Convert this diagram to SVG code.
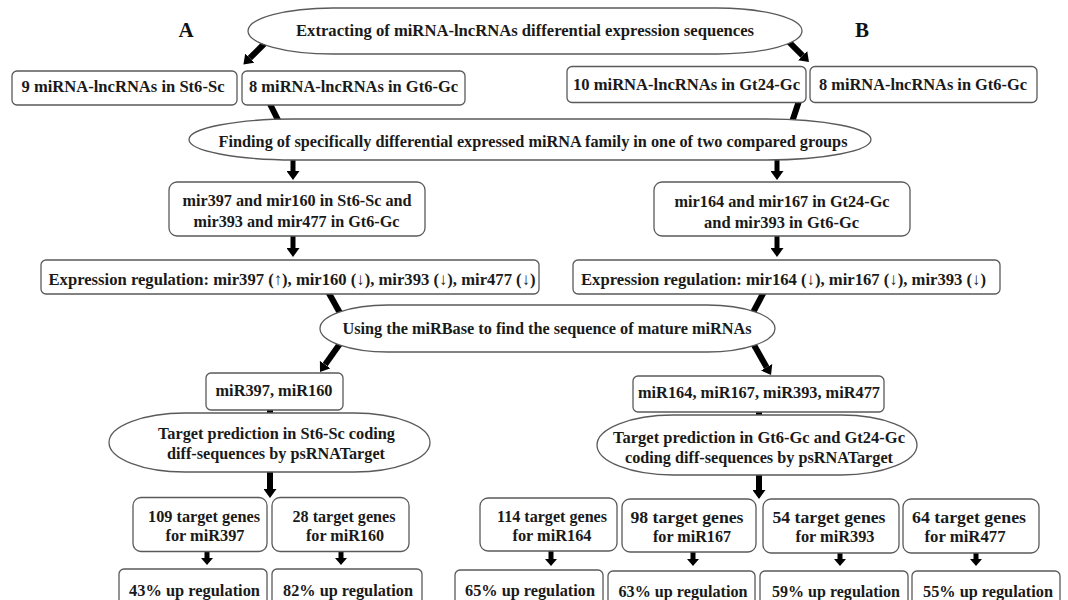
<svg xmlns="http://www.w3.org/2000/svg" width="1068" height="600" viewBox="0 0 1068 600">
<style>
.bx{fill:#fff;stroke:#5a5a5a;stroke-width:1.3}
.t{font-family:"Liberation Serif","Times New Roman",serif;font-weight:bold;font-size:17px;fill:#1a1a1a;text-anchor:middle}
.lbl{font-family:"Liberation Serif","Times New Roman",serif;font-weight:bold;font-size:21px;fill:#111;text-anchor:middle}
.c{stroke:#000;stroke-width:6;fill:none}
.cs{stroke:#000;stroke-width:5;fill:none}
</style>
<defs>
<marker id="ah" viewBox="0 0 10 10" refX="0" refY="5" markerUnits="userSpaceOnUse" markerWidth="9" markerHeight="13" preserveAspectRatio="none" orient="auto"><path d="M0,0 L10,5 L0,10 z" fill="#000"/></marker>
<marker id="ahs" viewBox="0 0 10 10" refX="0" refY="5" markerUnits="userSpaceOnUse" markerWidth="7" markerHeight="12" preserveAspectRatio="none" orient="auto"><path d="M0,0 L10,5 L0,10 z" fill="#000"/></marker>
</defs>
<rect width="1068" height="600" fill="#fff"/>
<g id="connectors">
<line class="c" x1="272" y1="36" x2="249.8" y2="58.1" marker-end="url(#ah)"/>
<line class="c" x1="780" y1="33" x2="802.6" y2="55.6" marker-end="url(#ah)"/>
<line class="c" x1="268" y1="100" x2="283" y2="130"/>
<line class="c" x1="800" y1="98" x2="790" y2="128"/>
<line class="cs" x1="293" y1="150" x2="293" y2="171" marker-end="url(#ah)"/>
<line class="cs" x1="777" y1="150" x2="777" y2="171" marker-end="url(#ah)"/>
<line class="cs" x1="293" y1="232" x2="293" y2="248" marker-end="url(#ah)"/>
<line class="cs" x1="777" y1="232" x2="777" y2="248" marker-end="url(#ah)"/>
<line class="c" x1="326" y1="288" x2="345" y2="322"/>
<line class="c" x1="766" y1="288" x2="748" y2="322"/>
<line class="c" x1="344" y1="338" x2="325.2" y2="364.6" marker-end="url(#ah)"/>
<line class="c" x1="750" y1="338" x2="766.6" y2="367.2" marker-end="url(#ah)"/>
<line class="c" x1="270" y1="400" x2="270" y2="425"/>
<line class="c" x1="759" y1="400" x2="759" y2="428"/>
<line class="c" x1="270" y1="465" x2="270" y2="489" marker-end="url(#ah)"/>
<line class="c" x1="759" y1="468" x2="759" y2="490" marker-end="url(#ah)"/>
<line class="cs" x1="207" y1="547" x2="207" y2="558" marker-end="url(#ahs)"/>
<line class="cs" x1="341" y1="547" x2="341" y2="558" marker-end="url(#ahs)"/>
<line class="cs" x1="551" y1="548" x2="551" y2="559" marker-end="url(#ahs)"/>
<line class="cs" x1="693" y1="548" x2="693" y2="559" marker-end="url(#ahs)"/>
<line class="cs" x1="840" y1="548" x2="840" y2="559" marker-end="url(#ahs)"/>
<line class="cs" x1="976" y1="548" x2="976" y2="559" marker-end="url(#ahs)"/>
</g>
<g id="labelA"><text class="lbl" x="186" y="36.5">A</text></g>
<g id="labelB"><text class="lbl" x="862" y="36.5">B</text></g>
<g id="n-extract"><rect class="bx" x="248" y="8" width="554" height="46" rx="85" ry="23"/><text class="t" x="525" y="35.5" textLength="458" lengthAdjust="spacingAndGlyphs">Extracting of miRNA-lncRNAs differential expression sequences</text></g>
<g id="n-st6sc"><rect class="bx" x="12" y="71" width="225" height="34" rx="5"/><text class="t" x="123" y="92" textLength="203" lengthAdjust="spacingAndGlyphs">9 miRNA-lncRNAs in St6-Sc</text></g>
<g id="n-gt6gc-a"><rect class="bx" x="242" y="71" width="223" height="34" rx="5"/><text class="t" x="353.5" y="92" textLength="209" lengthAdjust="spacingAndGlyphs">8 miRNA-lncRNAs in Gt6-Gc</text></g>
<g id="n-gt24gc"><rect class="bx" x="567" y="66.5" width="239" height="36" rx="5"/><text class="t" x="686.5" y="89.5" textLength="227" lengthAdjust="spacingAndGlyphs">10 miRNA-lncRNAs in Gt24-Gc</text></g>
<g id="n-gt6gc-b"><rect class="bx" x="810" y="66.5" width="227" height="36" rx="5"/><text class="t" x="923" y="89.5" textLength="208" lengthAdjust="spacingAndGlyphs">8 miRNA-lncRNAs in Gt6-Gc</text></g>
<g id="n-finding"><rect class="bx" x="189" y="119" width="682" height="41" rx="105" ry="20.5"/><text class="t" x="533" y="147" textLength="629" lengthAdjust="spacingAndGlyphs">Finding of specifically differential expressed miRNA family in one of two compared groups</text></g>
<g id="n-mirA"><rect class="bx" x="169" y="182" width="256" height="54" rx="8"/><text class="t" x="297" y="206" textLength="229" lengthAdjust="spacingAndGlyphs">mir397 and mir160 in St6-Sc and</text><text class="t" x="296.5" y="227" textLength="206" lengthAdjust="spacingAndGlyphs">mir393 and mir477 in Gt6-Gc</text></g>
<g id="n-mirB"><rect class="bx" x="654" y="182" width="256" height="54" rx="8"/><text class="t" x="782" y="207" textLength="215" lengthAdjust="spacingAndGlyphs">mir164 and mir167 in Gt24-Gc</text><text class="t" x="781.5" y="228" textLength="155" lengthAdjust="spacingAndGlyphs">and mir393 in Gt6-Gc</text></g>
<g id="n-exprA"><rect class="bx" x="41" y="260" width="498" height="34" rx="5"/><text class="t" x="292" y="285" textLength="487" lengthAdjust="spacingAndGlyphs">Expression regulation: mir397 (↑), mir160 (↓), mir393 (↓), mir477 (↓)</text></g>
<g id="n-exprB"><rect class="bx" x="573" y="260" width="427" height="34" rx="5"/><text class="t" x="783.5" y="285" textLength="405" lengthAdjust="spacingAndGlyphs">Expression regulation: mir164 (↓), mir167 (↓), mir393 (↓)</text></g>
<g id="n-mirbase"><rect class="bx" x="320" y="305" width="455" height="47" rx="68" ry="23.5"/><text class="t" x="547" y="333.5" textLength="409" lengthAdjust="spacingAndGlyphs">Using the miRBase to find the sequence of mature miRNAs</text></g>
<g id="n-matA"><rect class="bx" x="206" y="373" width="137" height="37" rx="5"/><text class="t" x="274" y="396" textLength="117" lengthAdjust="spacingAndGlyphs">miR397, miR160</text></g>
<g id="n-matB"><rect class="bx" x="633" y="376" width="251" height="36" rx="5"/><text class="t" x="759" y="398" textLength="242" lengthAdjust="spacingAndGlyphs">miR164, miR167, miR393, miR477</text></g>
<g id="n-predA"><rect class="bx" x="109" y="413" width="321" height="59" rx="76" ry="29.5"/><text class="t" x="276.5" y="439" textLength="237" lengthAdjust="spacingAndGlyphs">Target prediction in St6-Sc coding</text><text class="t" x="276" y="459" textLength="218" lengthAdjust="spacingAndGlyphs">diff-sequences by psRNATarget</text></g>
<g id="n-predB"><rect class="bx" x="597" y="415" width="320" height="60" rx="76" ry="30"/><text class="t" x="759" y="443" textLength="292" lengthAdjust="spacingAndGlyphs">Target prediction in Gt6-Gc and Gt24-Gc</text><text class="t" x="759" y="463" textLength="268" lengthAdjust="spacingAndGlyphs">coding diff-sequences by psRNATarget</text></g>
<g id="n-t397"><rect class="bx" x="133" y="497.5" width="134" height="54" rx="8"/><text class="t" x="204" y="521.5" textLength="112" lengthAdjust="spacingAndGlyphs">109 target genes</text><text class="t" x="205" y="540.5" textLength="79" lengthAdjust="spacingAndGlyphs">for miR397</text></g>
<g id="n-t160"><rect class="bx" x="272" y="497.5" width="137" height="54" rx="8"/><text class="t" x="344" y="521.5" textLength="103" lengthAdjust="spacingAndGlyphs">28 target genes</text><text class="t" x="345" y="540.5" textLength="78" lengthAdjust="spacingAndGlyphs">for miR160</text></g>
<g id="n-t164"><rect class="bx" x="480" y="498" width="137" height="53" rx="8"/><text class="t" x="552" y="521.5" textLength="110" lengthAdjust="spacingAndGlyphs">114 target genes</text><text class="t" x="552" y="540.5" textLength="79" lengthAdjust="spacingAndGlyphs">for miR164</text></g>
<g id="n-t167"><rect class="bx" x="622" y="499" width="134" height="53" rx="8"/><text class="t" x="687" y="522.5" textLength="113" lengthAdjust="spacingAndGlyphs">98 target genes</text><text class="t" x="692" y="541.5" textLength="78" lengthAdjust="spacingAndGlyphs">for miR167</text></g>
<g id="n-t393"><rect class="bx" x="763" y="499" width="136" height="54" rx="8"/><text class="t" x="829" y="522.5" textLength="113" lengthAdjust="spacingAndGlyphs">54 target genes</text><text class="t" x="835" y="541.5" textLength="79" lengthAdjust="spacingAndGlyphs">for miR393</text></g>
<g id="n-t477"><rect class="bx" x="903" y="499" width="136" height="54" rx="8"/><text class="t" x="969" y="522.5" textLength="114" lengthAdjust="spacingAndGlyphs">64 target genes</text><text class="t" x="965" y="541.5" textLength="81" lengthAdjust="spacingAndGlyphs">for miR477</text></g>
<g id="n-u43"><rect class="bx" x="119" y="569" width="148" height="40" rx="5"/><text class="t" x="194.5" y="595.5" textLength="131" lengthAdjust="spacingAndGlyphs">43% up regulation</text></g>
<g id="n-u82"><rect class="bx" x="272" y="569" width="150" height="40" rx="5"/><text class="t" x="348" y="595.5" textLength="130" lengthAdjust="spacingAndGlyphs">82% up regulation</text></g>
<g id="n-u65"><rect class="bx" x="455" y="570" width="148" height="40" rx="5"/><text class="t" x="530" y="595.5" textLength="130" lengthAdjust="spacingAndGlyphs">65% up regulation</text></g>
<g id="n-u63"><rect class="bx" x="608" y="571" width="147" height="40" rx="5"/><text class="t" x="683" y="596.5" textLength="129" lengthAdjust="spacingAndGlyphs">63% up regulation</text></g>
<g id="n-u59"><rect class="bx" x="760" y="571" width="148" height="40" rx="5"/><text class="t" x="836" y="596.5" textLength="128" lengthAdjust="spacingAndGlyphs">59% up regulation</text></g>
<g id="n-u55"><rect class="bx" x="912" y="571" width="148" height="40" rx="5"/><text class="t" x="988" y="596.5" textLength="130" lengthAdjust="spacingAndGlyphs">55% up regulation</text></g>
</svg>
